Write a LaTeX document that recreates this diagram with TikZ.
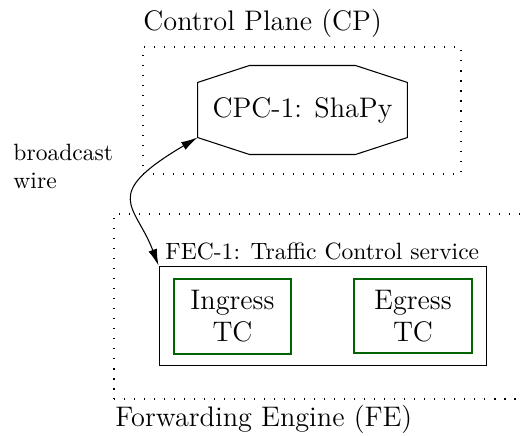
\documentclass[tikz,border=0pt]{standalone}
\usetikzlibrary{arrows.meta,calc,fit}
\definecolor{tcgreen}{RGB}{0,100,0}
\tikzset{
  x=0.4245pt, y=-0.4245pt,
  bigtext/.style={font=\fontsize{12}{13.6}\selectfont},
  smalltext/.style={font=\fontsize{10}{12}\selectfont},
  dotbox/.style={draw, line width=0.45pt, dash pattern=on 0.45pt off 3.8pt, inner sep=0pt},
  cpcbox/.style={inner sep=0pt, bigtext, minimum width=88.7pt, minimum height=37.4pt},
  fecbox/.style={draw, line width=0.4pt, inner sep=0pt},
  tcbox/.style={draw=tcgreen, line width=0.85pt, bigtext, align=center, inner sep=0pt,
    minimum width=49.7pt, minimum height=31.8pt},
  octline/.style={draw, line width=0.45pt, line join=miter},
  wire/.style={draw, line width=0.45pt, {Latex[length=7pt,width=3.7pt]}-{Latex[length=7pt,width=3.7pt]}},
}
\begin{document}
\begin{tikzpicture}
  \clip (0,0) rectangle (520,436);

  % Control plane
  \node[dotbox, fit={(143,47) (461,174)}] (cp) {};
  \node[bigtext, anchor=base west, inner sep=0pt] (cptitle) at (143,30) {Control Plane (CP)};

  \node[cpcbox] (cpc) at (302.5,110) {CPC-1: ShaPy};
  \draw[octline]
    ($(cpc.north west)+(52,0)$) -- ($(cpc.north east)+(-52,0)$)
    -- ($(cpc.north east)+(0,17)$) -- ($(cpc.south east)+(0,-17)$)
    -- ($(cpc.south east)+(-52,0)$) -- ($(cpc.south west)+(52,0)$)
    -- ($(cpc.south west)+(0,-17)$) -- ($(cpc.north west)+(0,17)$) -- cycle;
  \coordinate (cpcsw) at ($(cpc.south west)+(0,-17)$);

  % Forwarding engine
  \node[dotbox, fit={(114,214) (560,399)}] (fe) {};
  \node[bigtext, anchor=base west, inner sep=0pt] (fetitle) at (115,427) {Forwarding Engine (FE)};

  \node[fecbox, fit={(159,266) (486,365)}] (fec) {};
  \node[smalltext, anchor=base west, inner sep=0pt] (feclabel) at (165,260) {FEC-1: Traffic Control service};

  \node[tcbox] (ingress) at (232.5,316.5) {Ingress\\TC};
  \node[tcbox] (egress) at (413,316) {Egress\\TC};

  % broadcast wire
  \node[smalltext, align=left, anchor=north west, inner sep=0pt] (wirelabel) at (13,143.5) {broadcast\\wire};
  \draw[wire] (cpcsw) .. controls +(-98,58) and +(-23,-61) .. (fec.north west);
\end{tikzpicture}
\end{document}
